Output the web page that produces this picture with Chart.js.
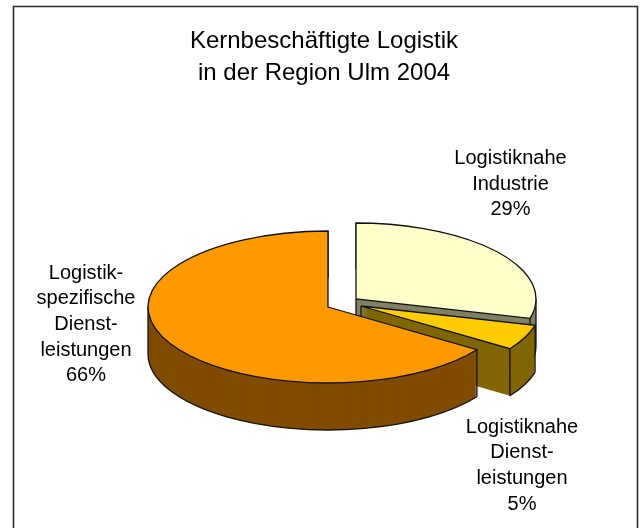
<!DOCTYPE html>
<html><head><meta charset="utf-8">
<style>html,body{margin:0;padding:0;background:#fff}canvas{display:block}</style>
<script src="https://cdn.jsdelivr.net/npm/chart.js@4"></script>
</head><body>
<div style="width:643px;height:528px"><canvas id="c" width="643" height="528"></canvas></div>
<script>
const categories = ['Logistiknahe Industrie', 'Logistiknahe Dienstleistungen', 'Logistikspezifische Dienstleistungen'];
const shares = [29.1, 5.4, 65.5];
const titleLines = ['Kernbeschäftigte Logistik', 'in der Region Ulm 2004'];
const labelLines = [
  ['Logistiknahe', 'Industrie', '29%'],
  ['Logistiknahe', 'Dienst-', 'leistungen', '5%'],
  ['Logistik-', 'spezifische', 'Dienst-', 'leistungen', '66%']
];
const topColors = ['#FFFFCC', '#FFCC00', '#FF9900'];
const wallColors = ['#808066', '#806600', '#804C00'];
// layout / style
const pie = {x: 328, y: 307, radius: 180, squash: 76 / 180, depth: 47};
const explode = [[28, -8], [33, -1], [0, 0]];
const labelCenter = [[510.5, 158.5], [522, 427], [86, 273]];
const labelStep = 25.7;
const labelFont = '20px "Liberation Sans", Arial, sans-serif';
const frame = {l: 13.5, t: 6.5, r: 637.5};

const pie3d = {
  id: 'pie3d',
  beforeDraw(chart) {
    const c = chart.ctx;
    c.save();
    c.fillStyle = '#fff';
    c.fillRect(0, 0, chart.width, chart.height);
    c.strokeStyle = '#2a2a2a';
    c.lineWidth = 1.6;
    c.beginPath();
    c.moveTo(frame.l, chart.height);
    c.lineTo(frame.l, frame.t);
    c.lineTo(frame.r, frame.t);
    c.lineTo(frame.r, chart.height);
    c.stroke();
    c.restore();
  },
  beforeDatasetDraw(chart) {
    const c = chart.ctx;
    const arcs = chart.getDatasetMeta(0).data;
    arcs.forEach((el, i) => {
      const base = el.options;
      const place = (dy) => {
        c.translate(pie.x + explode[i][0], pie.y + explode[i][1] + dy);
        c.scale(1, pie.squash);
        c.translate(-el.x, -el.y);
      };
      const rimY = (a) => Math.sin(a) * el.outerRadius * pie.squash;
      const rimX = (a) => Math.cos(a) * el.outerRadius;
      const ox = pie.x + explode[i][0], oy = pie.y + explode[i][1];
      // wall: the library's arc stacked downwards
      el.options = Object.assign({}, base, {backgroundColor: wallColors[i], borderWidth: 0});
      for (let d = pie.depth; d >= 1; d--) {
        c.save(); place(d); el.draw(c); c.restore();
      }
      // wall outlines: only the front half of the lower rim is visible
      c.strokeStyle = '#111';
      c.lineWidth = 1.3;
      const from = Math.max(el.startAngle, 0), to = Math.min(el.endAngle, Math.PI);
      if (to > from) {
        c.save(); place(pie.depth);
        c.beginPath(); c.arc(el.x, el.y, el.outerRadius, from, to);
        c.restore(); c.stroke();
      }
      const verticals = [el.startAngle, el.endAngle];
      [0, Math.PI].forEach(a => { if (a >= el.startAngle && a <= el.endAngle) verticals.push(a); });
      c.beginPath();
      verticals.forEach(a => {
        c.moveTo(ox + rimX(a), oy + rimY(a));
        c.lineTo(ox + rimX(a), oy + rimY(a) + pie.depth);
      });
      c.moveTo(ox, oy); c.lineTo(ox, oy + pie.depth);
      c.stroke();
      // top face
      el.options = Object.assign({}, base, {borderWidth: 0});
      c.save(); place(0); el.draw(c); c.restore();
      el.options = base;
      c.save(); place(0);
      c.beginPath();
      c.moveTo(el.x, el.y);
      c.arc(el.x, el.y, el.outerRadius, el.startAngle, el.endAngle);
      c.closePath();
      c.restore(); c.stroke();
    });
    return false;
  },
  afterDraw(chart) {
    const c = chart.ctx;
    c.save();
    c.font = labelFont;
    c.fillStyle = '#000';
    c.textAlign = 'center';
    c.textBaseline = 'middle';
    labelLines.forEach((lines, i) => {
      lines.forEach((t, j) => c.fillText(t, labelCenter[i][0], labelCenter[i][1] + j * labelStep));
    });
    c.restore();
  }
};

new Chart(document.getElementById('c'), {
  type: 'pie',
  data: {labels: categories, datasets: [{data: shares, backgroundColor: topColors, borderWidth: 0}]},
  options: {
    responsive: false,
    animation: false,
    radius: pie.radius,
    layout: {padding: {left: 5}},
    plugins: {
      legend: {display: false},
      tooltip: {enabled: false},
      title: {
        display: true,
        text: titleLines,
        color: '#000',
        font: {family: '"Liberation Sans", Arial, sans-serif', size: 24, weight: 'normal', lineHeight: 1.333},
        padding: {top: 25, bottom: 0}
      }
    }
  },
  plugins: [pie3d]
});
</script>
</body></html>
